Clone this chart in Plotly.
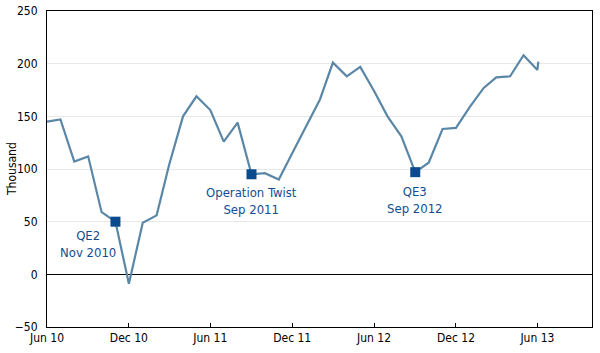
import plotly.graph_objects as go

dates = [
    "2010-06-01", "2010-07-01", "2010-08-01", "2010-09-01", "2010-10-01", "2010-11-01",
    "2010-12-01", "2011-01-01", "2011-02-01", "2011-03-01", "2011-04-01", "2011-05-01",
    "2011-06-01", "2011-07-01", "2011-08-01", "2011-09-01", "2011-10-01", "2011-11-01",
    "2011-12-01", "2012-01-01", "2012-02-01", "2012-03-01", "2012-04-01", "2012-05-01",
    "2012-06-01", "2012-07-01", "2012-08-01", "2012-09-01", "2012-10-01", "2012-11-01",
    "2012-12-01", "2013-01-01", "2013-02-01", "2013-03-01", "2013-04-01", "2013-05-01",
    "2013-06-01", "2013-06-03",
]
values = [
    145, 147, 107, 112, 59, 50,
    -9, 49, 56, 104, 150, 169,
    156, 126, 144, 95, 96, 90,
    115, 140, 166, 201, 188, 197,
    174, 150, 131, 97, 106, 138,
    139, 159, 177, 187, 188, 208,
    194, 202,
]

event_dates = ["2010-11-01", "2011-09-01", "2012-09-01"]
event_values = [50, 95, 97]
event_labels = ["QE2<br>Nov 2010", "Operation Twist<br>Sep 2011", "QE3<br>Sep 2012"]
event_xshift = [-27, 0, 0]
event_yshift = [-5, -10, -11]

y_title = "Thousand"

FONT = "Liberation Sans Narrow, DejaVu Sans Condensed, Arial Narrow, Liberation Sans, sans-serif"
TEXT_BLUE = "#124e8f"

fig = go.Figure()
fig.add_trace(go.Scatter(
    x=dates, y=values, mode="lines",
    line=dict(color="#5b87a7", width=2.2),
    showlegend=False, hoverinfo="skip",
))
fig.add_trace(go.Scatter(
    x=event_dates, y=event_values, mode="markers",
    marker=dict(symbol="square", size=10, color="#0a4a8f"),
    showlegend=False, hoverinfo="skip",
))

annotations = []
for d, v, lab, xs, ys in zip(event_dates, event_values, event_labels,
                             event_xshift, event_yshift):
    annotations.append(dict(x=d, y=v, xref="x", yref="y", text=lab, showarrow=False,
                            xshift=xs, yshift=ys, yanchor="top", xanchor="center",
                            borderpad=0,
                            font=dict(family=FONT, size=13, color=TEXT_BLUE)))
annotations.append(dict(x=0, y=0.5, xref="paper", yref="paper", text=y_title,
                        showarrow=False, textangle=-90, xanchor="center", yanchor="middle",
                        xshift=-35, font=dict(family=FONT, size=12, color="#000000")))

fig.update_layout(
    width=600, height=353,
    margin=dict(l=47, r=8, t=11, b=26),
    paper_bgcolor="white", plot_bgcolor="white",
    font=dict(family=FONT, size=12, color="#000000"),
    annotations=annotations,
    xaxis=dict(
        type="date", automargin=False,
        range=["2010-06-01", "2013-10-01"],
        tick0="2010-06-01", dtick="M6", tickformat="%b %y",
        ticks="inside", ticklen=4, tickcolor="#000000", tickwidth=1,
        showgrid=False, zeroline=False,
        showline=True, linecolor="#000000", linewidth=1, mirror=True,
        tickfont=dict(family=FONT, size=12, color="#000000"),
    ),
    yaxis=dict(
        automargin=False,
        range=[-50, 250], dtick=50,
        showgrid=True, gridcolor="#e8e8e8", gridwidth=1,
        zeroline=True, zerolinecolor="#000000", zerolinewidth=1,
        showline=True, linecolor="#000000", linewidth=1, mirror=True,
        ticks="", ticklabelstandoff=6,
        tickfont=dict(family=FONT, size=12, color="#000000"),
    ),
)

fig.write_html("out.html")
